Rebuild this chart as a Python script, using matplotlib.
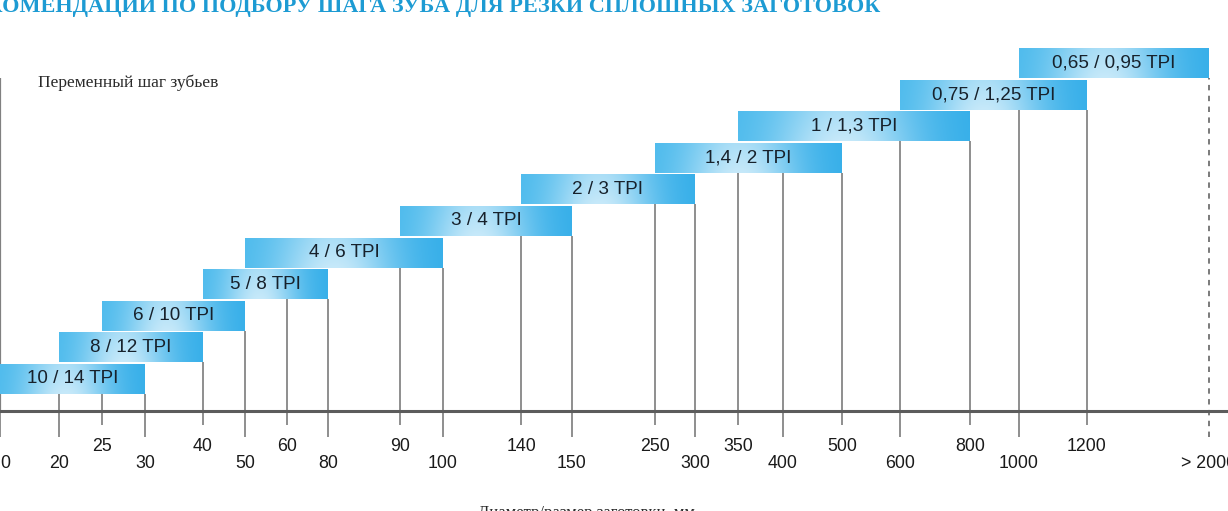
import matplotlib
matplotlib.use('Agg')
import matplotlib.pyplot as plt
import numpy as np

plt.rcParams['font.family'] = ['Liberation Sans', 'DejaVu Sans']

# diameter ticks (mm); ">2000" is kept as 2000
upper_ticks = [25, 40, 60, 90, 140, 250, 350, 500, 800, 1200]
lower_ticks = [0, 20, 30, 50, 80, 100, 150, 300, 400, 600, 1000, 2000]
lower_labels = ['0', '20', '30', '50', '80', '100', '150', '300', '400', '600', '1000', '> 2000']

# recommended tooth pitch for each diameter range
pitch_labels = ['10 / 14 TPI', '8 / 12 TPI', '6 / 10 TPI', '5 / 8 TPI', '4 / 6 TPI', '3 / 4 TPI',
                '2 / 3 TPI', '1,4 / 2 TPI', '1 / 1,3 TPI', '0,75 / 1,25 TPI', '0,65 / 0,95 TPI']
range_start = [0, 20, 25, 40, 50, 90, 140, 250, 350, 600, 1000]
range_end = [30, 40, 50, 80, 100, 150, 300, 500, 800, 1200, 2000]

title = 'РЕКОМЕНДАЦИИ ПО ПОДБОРУ ШАГА ЗУБА ДЛЯ РЕЗКИ СПЛОШНЫХ ЗАГОТОВОК'
legend_text = 'Переменный шаг зубьев'
xlabel = 'Диаметр/размер заготовки, мм'

# the printed axis is not to scale: piecewise mapping value -> position
axis_vals = [-1000, 0, 20, 25, 30, 40, 50, 60, 80, 90, 100, 140, 150, 250, 300,
             350, 400, 500, 600, 800, 1000, 1200, 2000, 2200, 10000]
axis_pos = [-1000, 0, 59, 102, 145, 203, 245, 287, 328, 400, 443, 521, 572, 655, 695,
            738, 783, 842, 900, 970, 1019, 1087, 1209, 1228, 9028]


def fwd(v):
    return np.interp(v, axis_vals, axis_pos)


def inv(p):
    return np.interp(p, axis_pos, axis_vals)


def main():
    fig = plt.figure(figsize=(12.28, 5.11), dpi=100)
    ax = fig.add_axes([0, 0, 1, 1])
    ax.set_xscale('function', functions=(fwd, inv))
    ax.set_xlim(0, 2200)
    ax.set_ylim(-3.165, 13.006)

    bar_h = 0.95
    base = 0.54
    edge_l = np.array([70, 184, 236]) / 255
    edge_r = np.array([52, 174, 233]) / 255
    light = np.array([222, 242, 252]) / 255

    xt = ax.xaxis.get_transform()
    bottoms = []
    for i, (lab, s, e) in enumerate(zip(pitch_labels, range_start, range_end)):
        b = base + i
        bottoms.append(b)
        xs = np.linspace(s, e, 300)
        p = xt.transform(xs)
        t = (p - p[0]) / (p[-1] - p[0])
        yy = np.linspace(1, 0, 24)[:, None]
        # soft highlight, strongest low in the middle of the bar
        w = 0.85 * np.exp(-((t[None, :] - 0.45) / 0.3) ** 2) * (0.8 + 0.2 * (1 - yy))
        col = (1 - t)[:, None] * edge_l + t[:, None] * edge_r
        img = col[None, :, :] * (1 - w[:, :, None]) + light * w[:, :, None]
        img = np.clip(img, 0, 1)
        ax.imshow(img, extent=(s, e, b, b + bar_h), aspect='auto',
                  interpolation='bilinear', zorder=2)
        xc = inv((fwd(s) + fwd(e)) / 2)
        ax.text(xc, b + bar_h / 2, lab, ha='center', va='center',
                fontsize=13.6, color='#17212b', zorder=3)

    # connectors from the axis up to the lowest bar covering each tick
    for tv in upper_ticks + lower_ticks[1:-1]:
        tops = [bottoms[k] for k in range(len(bottoms))
                if range_start[k] <= tv <= range_end[k]]
        ax.vlines(tv, 0, min(tops), color='#707070', lw=1.1, zorder=1)
    ax.vlines(0, 0, bottoms[-1], color='#808080', lw=1.6, zorder=1)
    ax.vlines(2000, -0.82, bottoms[-1], color='#707070', lw=1.3,
              linestyles=(0, (3, 3)), zorder=1)

    for sp in ['top', 'right', 'left']:
        ax.spines[sp].set_visible(False)
    ax.spines['bottom'].set_position(('data', 0))
    ax.spines['bottom'].set_color('#5c5c5c')
    ax.spines['bottom'].set_linewidth(2.2)
    ax.set_yticks([])

    ax.set_xticks(lower_ticks, lower_labels)
    ax.set_xticks(upper_ticks, [str(u) for u in upper_ticks], minor=True)
    ax.tick_params(axis='x', which='major', length=19, width=1.1, color='#707070',
                   pad=13, labelsize=12.8, labelcolor='#1a1a1a')
    ax.tick_params(axis='x', which='minor', length=10, width=1.1, color='#707070',
                   pad=9.5, labelsize=12.8, labelcolor='#1a1a1a')
    ax.xaxis.get_major_ticks()[-1].tick1line.set_visible(False)
    ax.get_xticklabels()[0].set_horizontalalignment('left')

    ax.text(38 / 1228, 1 - 83 / 511, legend_text, transform=fig.transFigure,
            ha='left', va='center', fontsize=12.6, family='Liberation Serif', color='#2a2a2a')
    fig.text(880 / 1228, 1 - 12 / 511, title, ha='right', va='baseline',
             fontsize=16, fontweight='bold', family='Liberation Serif', color='#1d9bd3')
    fig.text(587 / 1228, 1 - 505 / 511, xlabel, ha='center', va='top',
             fontsize=12, family='Liberation Serif', color='#2a2a2a')

    fig.savefig('out.png', dpi=100)
    return 0


if __name__ == '__main__':
    main()
